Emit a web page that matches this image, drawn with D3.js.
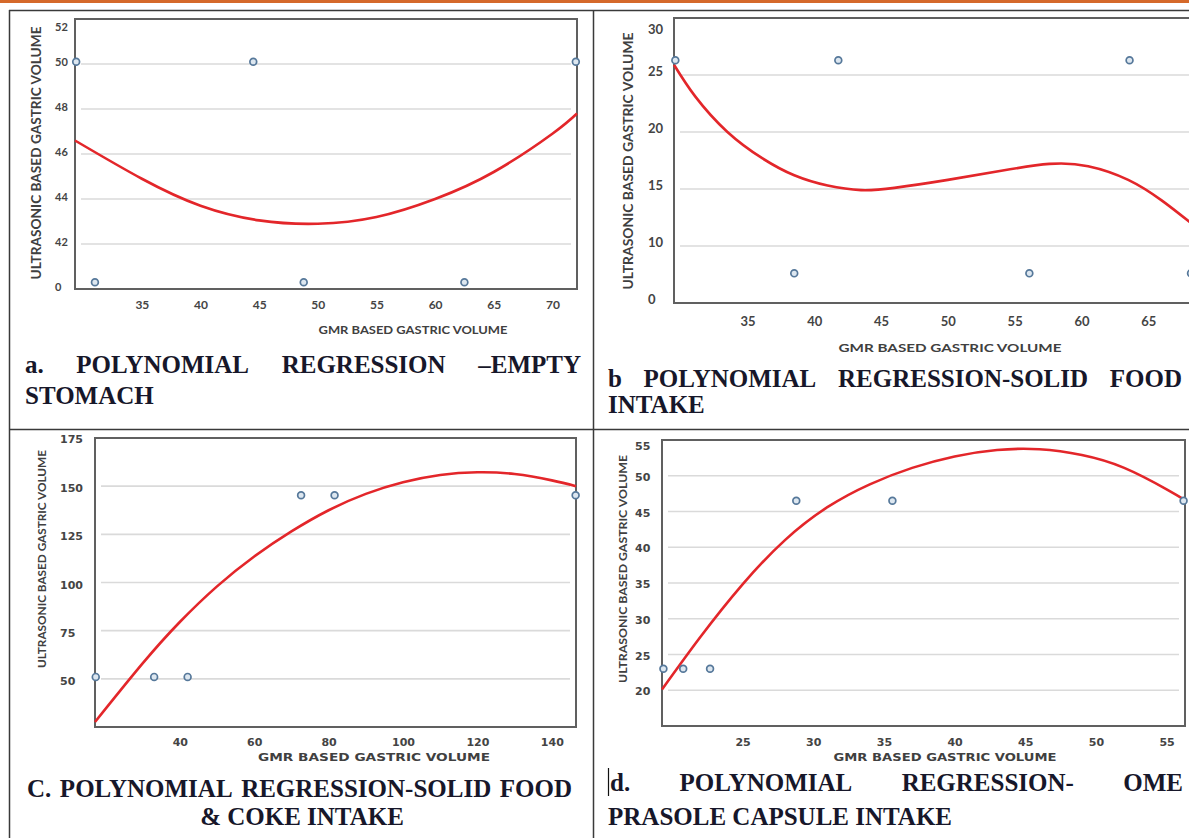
<!DOCTYPE html>
<html lang="en">
<head>
  <meta charset="UTF-8">
  <title>Polynomial regression</title>
  <script src="https://cdn.jsdelivr.net/npm/d3@7/dist/d3.min.js"></script>
  <style>
    body { margin: 0; background: #fff; }
  </style>
</head>
<body>
  <script>
    // a. empty stomach
    const aGmr = [29.4, 31.0, 44.5, 48.8, 62.5, 72.0]
    const aUsg = [50.1, 40.3, 50.1, 40.3, 40.3, 50.1]
    const aFitX = [29.3, 35, 40, 45, 50, 55, 60, 65, 70, 72.1]
    const aFitY = [46.6, 44.9, 43.7, 43.05, 42.9, 43.2, 44.0, 45.2, 46.9, 47.8]
    const aXTicks = [35, 40, 45, 50, 55, 60, 65, 70]
    const aYTicks = [40, 42, 44, 46, 48, 50, 52]
    const aYLabels = ['0', '42', '44', '46', '48', '50', '52']

    // b. solid food intake
    const bGmr = [29.6, 38.5, 41.8, 56.1, 63.6, 68.2]
    const bUsg = [26.3, 7.6, 26.3, 7.6, 26.3, 7.6]
    const bFitX = [29.5, 31.1, 33.5, 36.1, 38.5, 41, 43.5, 46, 50, 54, 57.6, 60.5, 63.5, 66, 68.1]
    const bFitY = [25.9, 23.1, 20.0, 17.7, 16.2, 15.3, 14.9, 15.1, 15.8, 16.6, 17.2, 17.0, 15.8, 14.0, 12.1]
    const bXTicks = [35, 40, 45, 50, 55, 60, 65]
    const bYTicks = [5, 10, 15, 20, 25, 30]
    const bYLabels = ['0', '10', '15', '20', '25', '30']

    // c. solid food & coke intake
    const cGmr = [17.4, 33.1, 42.1, 72.6, 81.6, 146.4]
    const cUsg = [51, 51, 51, 145.3, 145.3, 145.3]
    const cFitX = [17.2, 30, 40, 50, 60, 70, 80, 90, 100, 110, 120, 130, 140, 146.5]
    const cFitY = [27.6, 58, 79.5, 98, 113.5, 126.5, 137.5, 146, 152, 155.8, 157.2, 156.3, 153, 150]
    const cXTicks = [40, 60, 80, 100, 120, 140]
    const cYTicks = [50, 75, 100, 125, 150, 175]
    const cYLabels = ['50', '75', '100', '125', '150', '175']

    // d. omeprasole capsule intake
    const dGmr = [19.4, 20.8, 22.7, 28.8, 35.6, 56.2]
    const dUsg = [23, 23, 23, 46.5, 46.5, 46.5]
    const dFitX = [19.3, 22, 25, 28, 31, 34, 37, 40, 43, 46, 49, 52, 55, 56.3]
    const dFitY = [20.1, 27.4, 34.8, 41.0, 45.6, 48.8, 51.1, 52.7, 53.6, 53.7, 52.9, 51.1, 48.1, 46.6]
    const dXTicks = [25, 30, 35, 40, 45, 50, 55]
    const dYTicks = [20, 25, 30, 35, 40, 45, 50, 55]
    const dYLabels = ['20', '25', '30', '35', '40', '45', '50', '55']

    const yTitle = 'ULTRASONIC BASED GASTRIC VOLUME'
    const xTitle = 'GMR BASED GASTRIC VOLUME'

    const svg = d3.select('body')
      .append('svg')
      .attr('width', 1189)
      .attr('height', 838)

    // page frame
    svg.append('rect').attr('x', 0).attr('y', 0).attr('width', 1189).attr('height', 3).attr('fill', '#d5692a')
    const rules = [[9, 10.5, 1189, 10.5], [9.5, 10, 9.5, 838], [593.5, 10, 593.5, 838], [9, 429.5, 1189, 429.5]]
    svg.selectAll('.rule').data(rules).join('line')
      .attr('x1', d => d[0]).attr('y1', d => d[1]).attr('x2', d => d[2]).attr('y2', d => d[3])
      .attr('stroke', '#3a3a3a').attr('stroke-width', 1.5)

    const panels = [
      { gmr: aGmr, usg: aUsg, fx: aFitX, fy: aFitY, xTicks: aXTicks, yTicks: aYTicks, yLabels: aYLabels,
        xDomain: [29.3, 72.1], yDomain: [40, 52], left: 75, right: 577, top: 19, bottom: 289,
        font: 'Lato', yFont: 11, xFont: 12, yLabelX: 55, yShift: -2, topShift: 8, xLabelY: 309,
        yt: [36, 153, 253, 13], xt: [413, 334, 189, 11] },
      { gmr: bGmr, usg: bUsg, fx: bFitX, fy: bFitY, xTicks: bXTicks, yTicks: bYTicks, yLabels: bYLabels,
        xDomain: [29.5, 69], yDomain: [5, 30], left: 674, right: 1201.7, top: 18, bottom: 303,
        font: 'Lato', yFont: 13, xFont: 13, yLabelX: 648, yShift: -4, topShift: 11, xLabelY: 326,
        yt: [628, 161, 257, 14], xt: [950, 352, 223, 12] },
      { gmr: cGmr, usg: cUsg, fx: cFitX, fy: cFitY, xTicks: cXTicks, yTicks: cYTicks, yLabels: cYLabels,
        xDomain: [17.2, 146.5], yDomain: [25, 175], left: 95, right: 576, top: 438, bottom: 727,
        font: 'DejaVu Sans', yFont: 11, xFont: 11, yLabelX: 60, yShift: 2, topShift: 1, xLabelY: 746,
        yt: [42, 559, 218, 12], xt: [374, 761, 232, 10] },
      { gmr: dGmr, usg: dUsg, fx: dFitX, fy: dFitY, xTicks: dXTicks, yTicks: dYTicks, yLabels: dYLabels,
        xDomain: [19.3, 56.3], yDomain: [15, 55], left: 662, right: 1185, top: 440, bottom: 726,
        font: 'DejaVu Sans', yFont: 11, xFont: 11, yLabelX: 635, yShift: 1, topShift: 6, xLabelY: 746,
        yt: [623, 569, 228, 12], xt: [945, 761, 223, 10] }
    ]

    panels.forEach(p => {
      const x = d3.scaleLinear().domain(p.xDomain).range([p.left, p.right])
      const y = d3.scaleLinear().domain(p.yDomain).range([p.bottom, p.top])
      const g = svg.append('g')
      const last = p.yTicks.length - 1

      // gridlines (skip the top tick, that is the frame)
      g.selectAll('.grid').data(p.yTicks.slice(0, -1)).join('line')
        .attr('x1', p.left + 6).attr('x2', p.right - 6)
        .attr('y1', d => y(d)).attr('y2', d => y(d))
        .attr('stroke', '#dadada').attr('stroke-width', 1.6)

      // x axis labels
      g.append('g')
        .attr('transform', `translate(0,${p.bottom})`)
        .call(d3.axisBottom(x).tickValues(p.xTicks).tickSize(0))
        .call(a => a.select('.domain').remove())
        .attr('font-family', p.font).attr('font-size', p.xFont).attr('font-weight', 700)
        .selectAll('text')
        .attr('y', p.xLabelY - p.bottom).attr('dy', 0).attr('fill', '#444')

      // y axis labels, left aligned like the original
      g.append('g')
        .attr('transform', `translate(${p.left},0)`)
        .call(d3.axisLeft(y).tickValues(p.yTicks).tickSize(0).tickFormat((d, i) => p.yLabels[i]))
        .call(a => a.select('.domain').remove())
        .attr('font-family', p.font).attr('font-size', p.yFont).attr('font-weight', 700)
        .selectAll('text')
        .attr('text-anchor', 'start')
        .attr('x', p.yLabelX - p.left)
        .attr('y', (d, i) => i === last ? p.topShift : p.yShift)
        .attr('fill', '#444')

      // plot frame
      g.append('rect')
        .attr('x', p.left).attr('y', p.top)
        .attr('width', p.right - p.left).attr('height', p.bottom - p.top)
        .attr('fill', 'none').attr('stroke', '#606060').attr('stroke-width', 2)

      // fitted curve
      const line = d3.line().x(d => x(d[0])).y(d => y(d[1])).curve(d3.curveNatural)
      g.append('path')
        .attr('d', line(d3.zip(p.fx, p.fy)))
        .attr('fill', 'none').attr('stroke', '#e3262a').attr('stroke-width', 2.6)

      // observations
      g.selectAll('.pt').data(d3.zip(p.gmr, p.usg)).join('circle')
        .attr('cx', d => x(d[0])).attr('cy', d => y(d[1])).attr('r', 3.4)
        .attr('fill', '#dde7f0').attr('stroke', '#56789a').attr('stroke-width', 1.7)

      // axis titles
      g.append('text')
        .attr('transform', `translate(${p.yt[0]},${p.yt[1]}) rotate(-90)`)
        .attr('text-anchor', 'middle').attr('dy', '0.35em')
        .attr('font-family', 'Lato').attr('font-weight', 700).attr('font-size', p.yt[3])
        .attr('textLength', p.yt[2]).attr('lengthAdjust', 'spacingAndGlyphs')
        .attr('fill', '#404040')
        .text(yTitle)
      g.append('text')
        .attr('x', p.xt[0]).attr('y', p.xt[1])
        .attr('text-anchor', 'middle')
        .attr('font-family', p.font).attr('font-weight', 700).attr('font-size', p.xt[3])
        .attr('textLength', p.xt[2]).attr('lengthAdjust', 'spacingAndGlyphs')
        .attr('fill', '#404040')
        .text(xTitle)
    })

    // captions, justified like the document text
    function justify(words, left, right, base) {
      const t = svg.selectAll(null).data(words).join('text')
        .attr('y', base)
        .attr('font-family', 'Liberation Serif, Times New Roman, serif')
        .attr('font-weight', 700).attr('font-size', 25).attr('fill', '#17172a')
        .text(d => d)
      const w = t.nodes().map(n => n.getComputedTextLength())
      const gap = words.length > 1 ? (right - left - d3.sum(w)) / (words.length - 1) : 0
      let cx = left
      t.attr('x', (d, i) => { const v = cx; cx += w[i] + gap; return v })
    }
    justify(['a.', 'POLYNOMIAL', 'REGRESSION', '–EMPTY'], 25, 581, 373)
    justify(['STOMACH'], 25, 25, 404)
    justify(['b', 'POLYNOMIAL', 'REGRESSION-SOLID', 'FOOD'], 608, 1182, 387)
    justify(['INTAKE'], 608, 608, 413)
    justify(['C.', 'POLYNOMIAL', 'REGRESSION-SOLID', 'FOOD'], 27, 572, 797)
    justify(['d.', 'POLYNOMIAL', 'REGRESSION-', 'OME'], 610, 1183, 791)
    justify(['PRASOLE CAPSULE INTAKE'], 608, 608, 825)
    svg.append('text')
      .attr('x', 302).attr('y', 825).attr('text-anchor', 'middle')
      .attr('font-family', 'Liberation Serif, Times New Roman, serif')
      .attr('font-weight', 700).attr('font-size', 25).attr('fill', '#17172a')
      .text('& COKE INTAKE')
    // text cursor left in front of "d."
    svg.append('line').attr('x1', 608.5).attr('x2', 608.5).attr('y1', 768).attr('y2', 796)
      .attr('stroke', '#111').attr('stroke-width', 1.2)
  </script>
</body>
</html>
